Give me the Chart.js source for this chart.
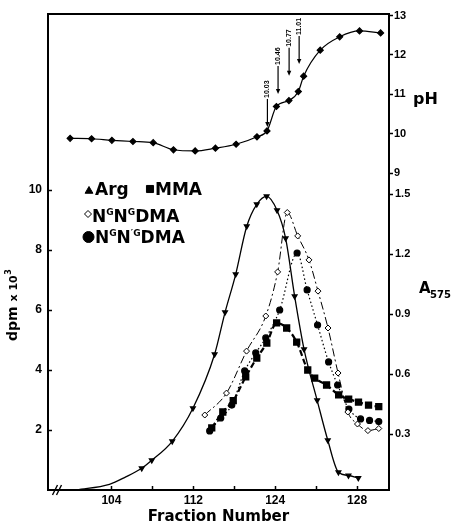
<!DOCTYPE html>
<html>
<head>
<meta charset="utf-8">
<script src="https://cdn.jsdelivr.net/npm/chart.js@4.4.1/dist/chart.umd.min.js"></script>
<style>
  html, body { margin: 0; padding: 0; background: #fff; }
  #wrap { position: relative; width: 456px; height: 526px; }
  canvas { position: absolute; left: 0; top: 0; }
</style>
</head>
<body>
<div id="wrap">
  <canvas id="phChart" width="456" height="526"></canvas>
  <canvas id="elutionChart" width="456" height="526"></canvas>
</div>
<script>
// x positions are on an even tick grid; the printed labels are uneven
const xTickPos = [104, 106, 108, 110, 112, 114, 116];
const xLabelPos = [104, 108, 112, 116];
const xLabelText = ["104", "112", "124", "128"];
const phTicks = [9, 10, 11, 12, 13];
const dpmTicks = [2, 4, 6, 8, 10];
const absTicks = [0.3, 0.6, 0.9, 1.2, 1.5];

// upper panel: pH of the fractions
const phFrac = [101.98, 103.03, 104.02, 105.05, 106.04, 107.03, 108.09, 109.08, 110.09, 111.11,
  111.6, 112.06, 112.67, 113.13, 113.39, 114.2, 115.15, 116.12, 117.15];
const phValues = [9.88, 9.87, 9.83, 9.8, 9.77, 9.59, 9.56, 9.63, 9.73, 9.92,
  10.07, 10.69, 10.84, 11.07, 11.46, 12.12, 12.46, 12.61, 12.56];

// pH arrows
const arrowFrac = [111.62, 112.14, 112.68, 113.17];
const arrowTipPH = [10.17, 11.01, 11.47, 11.77];
const arrowText = ["10.03", "10.46", "10.77", "11.01"];

// lower panel
const argFrac = [102.3, 103.9, 104.7, 105.48, 105.97, 106.97, 107.98, 109.04, 109.55, 110.07, 110.61,
  111.1, 111.58, 112.09, 112.51, 112.95, 113.41, 114.05, 114.57, 115.09, 115.58, 116.06];
const argA575 = [0.022, 0.05, 0.087, 0.13, 0.17, 0.265, 0.43, 0.7, 0.91, 1.1, 1.34,
  1.45, 1.49, 1.42, 1.28, 0.99, 0.725, 0.47, 0.27, 0.11, 0.094, 0.082];
const argHidden = 3; // first points only shape the curve, no marker

const mmaFrac = [108.9, 109.44, 109.95, 110.56, 111.1, 111.59, 112.07, 112.56, 113.05, 113.59,
  113.93, 114.51, 115.1, 115.59, 116.07, 116.56, 117.06];
const mmaDpm = [2.07, 2.6, 2.98, 3.77, 4.4, 4.9, 5.57, 5.4, 4.93, 4.0,
  3.73, 3.5, 3.17, 3.03, 2.93, 2.83, 2.78];

const asymFrac = [108.56, 109.62, 110.6, 111.54, 112.12, 112.59, 113.1, 113.65, 114.09, 114.58,
  115.07, 115.55, 116.02, 116.53, 117.06];
const asymDpm = [2.5, 3.23, 4.63, 5.8, 7.27, 9.25, 8.47, 7.67, 6.63, 5.4,
  3.9, 2.6, 2.2, 1.98, 2.05];

const symFrac = [108.8, 109.34, 109.88, 110.51, 111.05, 111.54, 112.22, 113.07, 113.56, 114.07,
  114.61, 115.05, 115.6, 116.17, 116.61, 117.06];
const symDpm = [1.97, 2.4, 2.83, 3.97, 4.57, 5.07, 6.0, 7.9, 6.67, 5.5,
  4.27, 3.5, 2.7, 2.37, 2.32, 2.28];

const pts = (xs, ys) => xs.map((x, i) => ({ x: x, y: ys[i] }));

const tickFont = { family: "Liberation Sans", weight: "bold", size: 12 };
const tickFontR = { family: "Liberation Sans", weight: "bold", size: 11 };
const X_MIN = 100.9, X_MAX = 117.56;

function fixTicks(values) {
  return (s) => { s.ticks = values.map((v) => ({ value: v })); };
}

// ---------- upper panel ----------
const phPlugin = {
  id: "phArrows",
  afterDatasetsDraw(chart) {
    const { ctx, scales } = chart;
    ctx.save();
    ctx.fillStyle = "#000";
    ctx.strokeStyle = "#000";
    arrowFrac.forEach((f, i) => {
      const ax = scales.x.getPixelForValue(f);
      const tip = scales.ph.getPixelForValue(arrowTipPH[i]);
      const top = tip - 28;
      ctx.lineWidth = 1.2;
      ctx.beginPath();
      ctx.moveTo(ax, top);
      ctx.lineTo(ax, tip - 4);
      ctx.stroke();
      ctx.beginPath();
      ctx.moveTo(ax - 2.2, tip - 5);
      ctx.lineTo(ax + 2.2, tip - 5);
      ctx.lineTo(ax, tip);
      ctx.closePath();
      ctx.fill();
      ctx.save();
      ctx.translate(ax, top - 1);
      ctx.rotate(-Math.PI / 2);
      ctx.font = 'bold 7px "Liberation Sans"';
      ctx.textAlign = "left";
      ctx.textBaseline = "middle";
      ctx.fillText(arrowText[i], 0, 0);
      ctx.restore();
    });
    ctx.font = 'bold 16px "DejaVu Sans"';
    ctx.textAlign = "left";
    ctx.textBaseline = "middle";
    ctx.fillText("pH", 413, 100);
    ctx.restore();
  },
};

new Chart(document.getElementById("phChart"), {
  type: "line",
  data: {
    datasets: [{
      data: pts(phFrac, phValues),
      yAxisID: "ph",
      borderColor: "#000",
      borderWidth: 1.2,
      cubicInterpolationMode: "monotone",
      pointStyle: "rectRot",
      pointRadius: 3,
      pointBackgroundColor: "#000",
      pointBorderColor: "#000",
    }],
  },
  options: {
    responsive: false,
    animation: false,
    layout: { padding: { top: 0, bottom: 353, left: 0, right: 0 } },
    plugins: { legend: { display: false }, tooltip: { enabled: false } },
    scales: {
      x: {
        type: "linear", position: "top", min: X_MIN, max: X_MAX,
        afterFit: (s) => { s.height = 14; },
        ticks: { display: false },
        grid: { display: false },
        border: { color: "#000", width: 2 },
      },
      yl: {
        position: "left",
        afterFit: (s) => { s.width = 48; },
        ticks: { display: false },
        grid: { display: false },
        border: { color: "#000", width: 2 },
      },
      ph: {
        position: "right", min: 9, max: 13.04,
        afterBuildTicks: fixTicks(phTicks),
        afterFit: (s) => { s.width = 67; },
        ticks: { font: tickFontR, color: "#000", padding: 1 },
        grid: { drawOnChartArea: false, tickLength: 4, color: "#000", tickWidth: 1.5 },
        border: { color: "#000", width: 2 },
      },
    },
  },
  plugins: [phPlugin],
});

// ---------- lower panel ----------
function drawRich(ctx, parts, x, y) {
  parts.forEach((p) => {
    ctx.font = p.sup ? 'bold 9px "DejaVu Sans"' : 'bold 17px "DejaVu Sans"';
    ctx.fillText(p.t, x, p.sup ? y - 7 : y);
    x += ctx.measureText(p.t).width;
  });
}

const decorPlugin = {
  id: "decor",
  afterDraw(chart) {
    const ctx = chart.ctx;
    const dp = Chart.helpers.drawPoint;
    ctx.save();
    ctx.fillStyle = "#000";
    ctx.strokeStyle = "#000";
    ctx.textAlign = "left";
    ctx.textBaseline = "alphabetic";

    // axis break
    ctx.lineWidth = 1.4;
    [55, 59].forEach((bx) => {
      ctx.beginPath();
      ctx.moveTo(bx - 2.5, 495);
      ctx.lineTo(bx + 2.5, 485);
      ctx.stroke();
    });

    // legend
    ctx.lineWidth = 1;
    dp(ctx, { pointStyle: "triangle", radius: 4.5, rotation: 0, borderWidth: 1 }, 89, 191);
    drawRich(ctx, [{ t: "Arg" }], 95, 195);
    dp(ctx, { pointStyle: "rect", radius: 5, rotation: 0, borderWidth: 1 }, 150, 189);
    drawRich(ctx, [{ t: "MMA" }], 155, 195);
    ctx.fillStyle = "#fff";
    dp(ctx, { pointStyle: "rectRot", radius: 3.5, rotation: 0, borderWidth: 1 }, 88, 214);
    ctx.fillStyle = "#000";
    drawRich(ctx, [{ t: "N" }, { t: "G", sup: true }, { t: "N" }, { t: "G", sup: true }, { t: "DMA" }], 92, 222);
    dp(ctx, { pointStyle: "circle", radius: 5.5, rotation: 0, borderWidth: 1 }, 88.5, 237);
    drawRich(ctx, [{ t: "N" }, { t: "G", sup: true }, { t: "N" }, { t: "\u2032G", sup: true }, { t: "DMA" }], 95, 243);

    // y-axis titles
    ctx.save();
    ctx.translate(17, 341);
    ctx.rotate(-Math.PI / 2);
    ctx.font = 'bold 14px "DejaVu Sans"';
    ctx.fillText("dpm", 0, 0);
    let w = ctx.measureText("dpm ").width;
    ctx.font = 'bold 11px "DejaVu Sans"';
    ctx.fillText("x 10", w, 0);
    w += ctx.measureText("x 10").width;
    ctx.font = 'bold 8px "DejaVu Sans"';
    ctx.fillText("3", w + 0.5, -6);
    ctx.restore();

    ctx.font = 'bold 15px "DejaVu Sans"';
    ctx.fillText("A", 419, 293);
    ctx.font = 'bold 10px "DejaVu Sans"';
    ctx.fillText("575", 430, 298);
    ctx.restore();
  },
};

new Chart(document.getElementById("elutionChart"), {
  type: "line",
  data: {
    datasets: [
      {
        label: "Arg",
        data: pts(argFrac, argA575),
        yAxisID: "yA",
        borderColor: "#000",
        borderWidth: 1.3,
        cubicInterpolationMode: "monotone",
        pointStyle: "triangle",
        rotation: 180,
        pointRadius: (c) => (c.dataIndex < argHidden ? 0 : 2.7),
        pointBackgroundColor: "#000",
        pointBorderColor: "#000",
      },
      {
        label: "MMA",
        data: pts(mmaFrac, mmaDpm),
        yAxisID: "yD",
        borderColor: "#000",
        borderWidth: 2.2,
        borderDash: [6, 3],
        cubicInterpolationMode: "monotone",
        pointStyle: "rect",
        pointRadius: 3.6,
        pointBackgroundColor: "#000",
        pointBorderColor: "#000",
      },
      {
        label: "NGNG DMA",
        data: pts(asymFrac, asymDpm),
        yAxisID: "yD",
        borderColor: "#000",
        borderWidth: 1,
        borderDash: [8, 3, 2, 3],
        cubicInterpolationMode: "monotone",
        pointStyle: "rectRot",
        pointRadius: 3,
        pointBorderWidth: 1,
        pointBackgroundColor: "#fff",
        pointBorderColor: "#000",
      },
      {
        label: "NGN'G DMA",
        data: pts(symFrac, symDpm),
        yAxisID: "yD",
        borderColor: "#000",
        borderWidth: 1.2,
        borderDash: [1.5, 2.5],
        cubicInterpolationMode: "monotone",
        pointStyle: "circle",
        pointRadius: 3,
        pointBackgroundColor: "#000",
        pointBorderColor: "#000",
      },
    ],
  },
  options: {
    responsive: false,
    animation: false,
    layout: { padding: { top: 173, bottom: 0, left: 0, right: 0 } },
    plugins: { legend: { display: false }, tooltip: { enabled: false } },
    scales: {
      x: {
        type: "linear", position: "bottom", min: X_MIN, max: X_MAX,
        afterBuildTicks: fixTicks(xTickPos),
        afterFit: (s) => { s.height = 36; },
        ticks: {
          font: tickFont, color: "#000", padding: 7, maxRotation: 0, autoSkip: false,
          callback: (v) => {
            const i = xLabelPos.indexOf(v);
            return i < 0 ? "" : xLabelText[i];
          },
        },
        grid: { drawOnChartArea: false, tickLength: -4, color: "#000", tickWidth: 1.5 },
        border: { color: "#000", width: 2 },
        title: {
          display: true, text: "Fraction Number", color: "#000", padding: 0,
          font: { family: "DejaVu Sans", weight: "bold", size: 15 },
        },
      },
      yD: {
        position: "left", min: 0, max: 10.567,
        afterBuildTicks: fixTicks(dpmTicks),
        afterFit: (s) => { s.width = 48; },
        ticks: { font: tickFont, color: "#000", padding: 10 },
        grid: { drawOnChartArea: false, tickLength: -4, color: "#000", tickWidth: 1.5 },
        border: { color: "#000", width: 2 },
      },
      yA: {
        position: "right", min: 0.0215, max: 1.6065,
        afterBuildTicks: fixTicks(absTicks),
        afterFit: (s) => { s.width = 67; },
        ticks: { font: tickFontR, color: "#000", padding: 2, callback: (v) => v.toFixed(1) },
        grid: { drawOnChartArea: false, tickLength: 4, color: "#000", tickWidth: 1.5 },
        border: { color: "#000", width: 2 },
      },
    },
  },
  plugins: [decorPlugin],
});
</script>
</body>
</html>
